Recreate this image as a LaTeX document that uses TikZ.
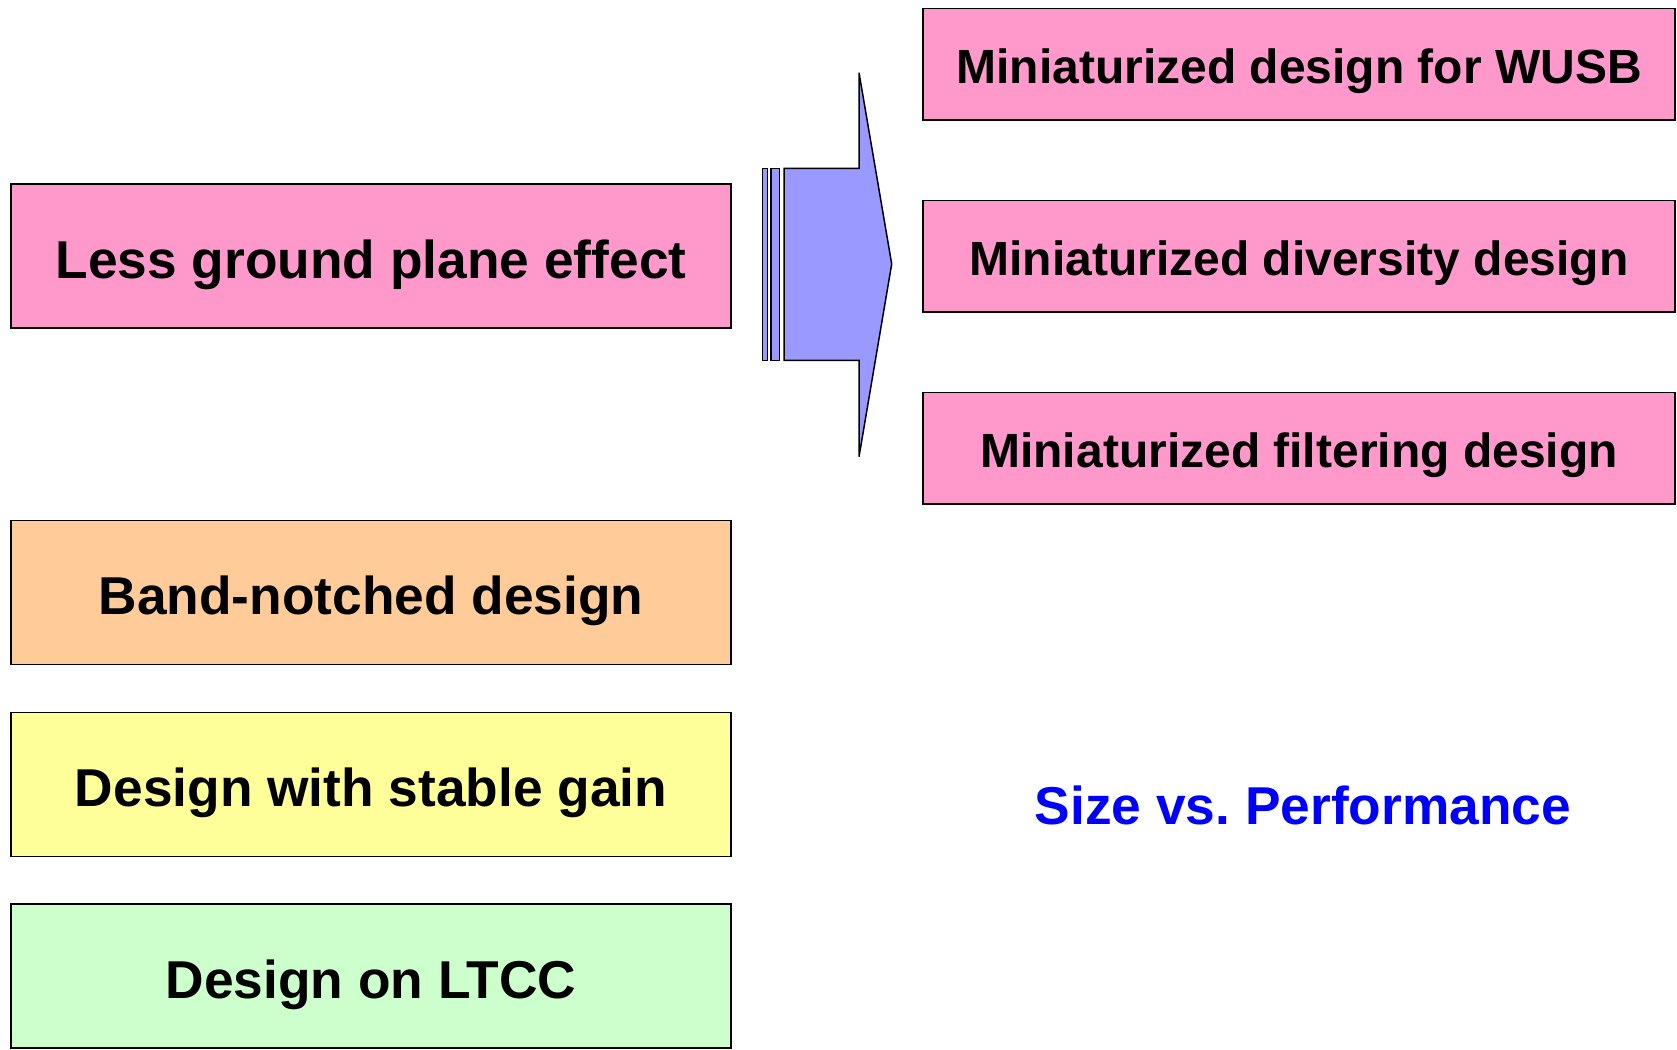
\documentclass[tikz,border=0pt]{standalone}
\usepackage{fontspec}
\setmainfont{Liberation Sans}
\definecolor{pinkfill}{HTML}{FF99CC}
\definecolor{orangefill}{HTML}{FFCC99}
\definecolor{yellowfill}{HTML}{FFFF99}
\definecolor{greenfill}{HTML}{CCFFCC}
\definecolor{arrowfill}{HTML}{9999FF}
\definecolor{sizeblue}{HTML}{0000FF}
\begin{document}
\begin{tikzpicture}[x=1pt,y=-1pt,
  leftbox/.style={draw=black,line width=1.5pt,minimum width=720pt,minimum height=144pt,inner sep=0pt,text height=44pt,text depth=0pt,font=\fontsize{53.3}{60}\selectfont\bfseries},
  rightbox/.style={draw=black,line width=1.5pt,minimum width=752pt,minimum height=111.5pt,inner sep=0pt,text height=38pt,text depth=0pt,font=\fontsize{48}{56}\selectfont\bfseries},
  arrowshape/.style={draw=black,line width=1.5pt,fill=arrowfill,line join=miter}]
\useasboundingbox (0,0) rectangle (1677,1049);
\fill[white] (0,0) rectangle (1677,1049);
% left boxes
\node[leftbox,fill=pinkfill] (lg) at (371.1,256.2) {Less ground plane effect};
\node[leftbox,fill=orangefill] (bn) at (371.1,592.5) {Band-notched design};
\node[leftbox,fill=yellowfill] (sg) at (371.1,784.5) {Design with stable gain};
\node[leftbox,fill=greenfill] (lt) at (371.1,976.2) {Design on LTCC};
% right boxes
\node[rightbox,fill=pinkfill] (wusb) at (1299,64.2) {Miniaturized design for WUSB};
\node[rightbox,fill=pinkfill] (div) at (1299,256.2) {Miniaturized diversity design};
\node[rightbox,fill=pinkfill] (filt) at (1299,448.1) {Miniaturized filtering design};
% block arrow
\draw[arrowshape] (762.7,168.3) rectangle (767.7,360.3);
\draw[arrowshape] (771,168.3) rectangle (779.7,360.3);
\draw[arrowshape] (784,168.3) -- (859,168.3) -- (859,72.7) -- (891.7,264)
  -- (859,456.7) -- (859,360.3) -- (784,360.3) -- cycle;
% caption
\node[text=sizeblue,font=\fontsize{53.3}{60}\selectfont\bfseries] (svp) at (1303,805) {Size vs.\ Performance};
\end{tikzpicture}
\end{document}
